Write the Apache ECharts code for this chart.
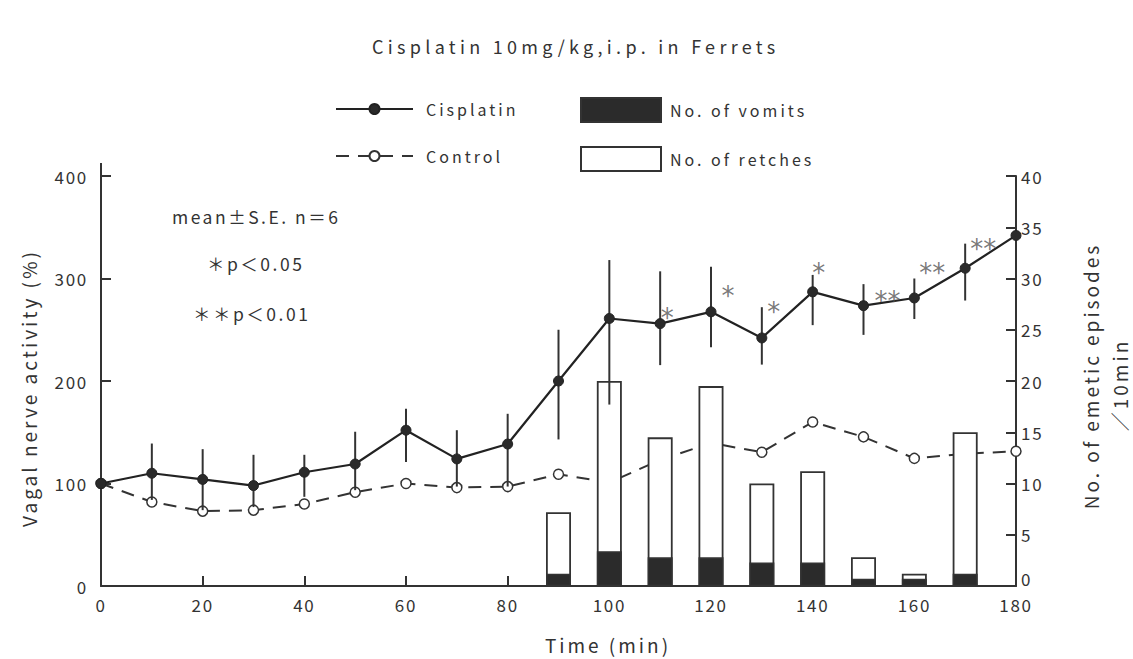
<!DOCTYPE html>
<html>
<head>
<meta charset="utf-8">
<script src="https://cdn.jsdelivr.net/npm/echarts@6/dist/echarts.min.js"></script>
<style>
html,body{margin:0;padding:0;background:#fff;}
#chart{width:1133px;height:659px;}
#chart text{letter-spacing:1.7px;}
#chart text[style*="18px"]{letter-spacing:4.3px;}
#chart text[style*="16px"]{letter-spacing:3px;}
#chart text[style*="19px"]{letter-spacing:3px;}
#chart text[style*="17.5px"]{letter-spacing:2.5px;}
#chart text[style*="26px"]{letter-spacing:0px;}
</style>
</head>
<body>
<div id="chart"></div>
<script>
// ---- data ----
const minutes    = [0, 10, 20, 30, 40, 50, 60, 70, 80, 90, 100, 110, 120, 130, 140, 150, 160, 170, 180];
const cisplatin  = [100, 110, 104, 98, 111, 119, 152, 124, 138.5, 200, 261, 256, 267.5, 242, 287, 273.5, 281, 310, 342];
const cisErrLow  = [null, 84, 74, 77, 87, 93.5, 121, 97, 97, 143, 177, 215.5, 233, 216, 254.5, 245, 260.5, 278.5, null];
const cisErrHigh = [null, 139, 133.5, 128, 128, 150.5, 173, 152, 168, 250, 318, 307, 311.5, 272, 303.5, 294.5, 300, 334, null];
const control    = [100, 82, 73, 74, 80, 91.5, 100, 96, 97, 109, 101, 123, 139.5, 130.5, 160, 145.5, 124.5, 129, 131.5];

const barMinutes = [90, 100, 110, 120, 130, 140, 150, 160, 170];
const vomits     = [1.2, 3.4, 2.8, 2.8, 2.3, 2.3, 0.7, 0.7, 1.2];
const retches    = [7.2, 20, 14.5, 19.5, 10, 11.2, 2.8, 1.2, 15];

const sigMinutes = [110, 120, 130, 140, 150, 160, 170];
const sigMarks   = ['*', '*', '*', '*', '**', '**', '**'];

const xTicks = { min: 0, max: 180, interval: 20 };
const yLeftTicks = { min: 0, max: 400, interval: 100 };
const yRightTicks = { min: 0, max: 40, interval: 5 };

// ---- styling / layout ----
const FONT = '"Noto Sans CJK JP", "Noto Sans", sans-serif';
const INK = '#333';
const sigOffsets = [[7, -6], [17, -16], [12, -26], [6, -19], [24, -5], [18, -25], [18, -19]];

const chart = echarts.init(document.getElementById('chart'), null, { renderer: 'svg' });

const axisLineStyle = { color: INK, width: 2 };

const option = {
  backgroundColor: '#fff',
  animation: false,
  title: {
    text: 'Cisplatin 10mg/kg,i.p. in Ferrets',
    left: 372, top: 37, padding: 0,
    textStyle: { fontSize: 18, fontWeight: 'normal', color: INK, fontFamily: FONT }
  },
  legend: [
    {
      data: ['Cisplatin', 'Control'],
      orient: 'vertical', left: 335, top: 101, padding: 0,
      itemWidth: 77, itemHeight: 12.5, itemGap: 31,
      selectedMode: false,
      textStyle: { fontSize: 16, color: INK, fontFamily: FONT, lineHeight: 16, padding: [0, 0, 0, 8] }
    },
    {
      data: ['No. of vomits', 'No. of retches'],
      orient: 'vertical', left: 580, top: 97, padding: 0,
      itemWidth: 80, itemHeight: 24, itemGap: 23,
      icon: 'rect', selectedMode: false,
      textStyle: { fontSize: 16, color: INK, fontFamily: FONT, lineHeight: 24, padding: [0, 0, 0, 4] }
    }
  ],
  grid: { left: 101, right: 117, top: 176, bottom: 73, containLabel: false, outerBoundsMode: 'none' },
  xAxis: {
    type: 'value', min: xTicks.min, max: xTicks.max, interval: xTicks.interval,
    axisLine: { show: true, lineStyle: axisLineStyle },
    axisTick: { show: true, inside: true, length: 10, lineStyle: { color: INK, width: 2 } },
    axisLabel: { color: INK, fontSize: 17, margin: 10, fontFamily: FONT },
    splitLine: { show: false }
  },
  yAxis: [
    {
      type: 'value', position: 'left', min: yLeftTicks.min, max: yLeftTicks.max, interval: yLeftTicks.interval,
      axisLine: { show: true, lineStyle: axisLineStyle },
      axisTick: { show: true, inside: true, length: 10, lineStyle: { color: INK, width: 2 } },
      axisLabel: { color: INK, fontSize: 17, margin: 13, fontFamily: FONT },
      splitLine: { show: false }
    },
    {
      type: 'value', position: 'right', min: yRightTicks.min, max: yRightTicks.max, interval: yRightTicks.interval,
      axisLine: { show: true, lineStyle: axisLineStyle },
      axisTick: { show: true, inside: true, length: 10, lineStyle: { color: INK, width: 2 } },
      axisLabel: {
        color: INK, fontSize: 17, margin: 5, fontFamily: FONT,
        formatter: v => v === 0 ? '{z|0}' : String(v),
        rich: { z: { fontSize: 17, color: INK, fontFamily: FONT, padding: [0, 0, 16, 0] } }
      },
      splitLine: { show: false }
    }
  ],
  graphic: [
    { type: 'line', shape: { x1: 101, y1: 163, x2: 101, y2: 177 }, style: { stroke: INK, lineWidth: 2 } },
    { type: 'text', x: 28, y: 388, rotation: Math.PI / 2,
      style: { text: 'Vagal nerve activity (%)', align: 'center', verticalAlign: 'middle', fontSize: 19, fill: INK, fontFamily: FONT } },
    { type: 'text', x: 1090, y: 376, rotation: Math.PI / 2,
      style: { text: 'No. of emetic episodes', align: 'center', verticalAlign: 'middle', fontSize: 19, fill: INK, fontFamily: FONT } },
    { type: 'text', x: 1119, y: 385, rotation: Math.PI / 2,
      style: { text: '／10min', align: 'center', verticalAlign: 'middle', fontSize: 19, fill: INK, fontFamily: FONT } },
    { type: 'text', x: 608, y: 644,
      style: { text: 'Time (min)', align: 'center', verticalAlign: 'middle', fontSize: 19, fill: INK, fontFamily: FONT } },
    { type: 'text', x: 172, y: 216,
      style: { text: 'mean±S.E. n＝6', align: 'left', verticalAlign: 'middle', fontSize: 17.5, fill: INK, fontFamily: FONT } },
    { type: 'text', x: 207, y: 263,
      style: { text: '＊p＜0.05', align: 'left', verticalAlign: 'middle', fontSize: 17.5, fill: INK, fontFamily: FONT } },
    { type: 'text', x: 193, y: 313,
      style: { text: '＊＊p＜0.01', align: 'left', verticalAlign: 'middle', fontSize: 17.5, fill: INK, fontFamily: FONT } }
  ],
  series: [
    {
      name: 'Control', type: 'line', z: 1,
      data: minutes.map((m, i) => [m, control[i]]),
      symbol: 'circle', symbolSize: 10,
      itemStyle: { color: '#fff', borderColor: INK, borderWidth: 1.5 },
      lineStyle: { color: INK, width: 2, type: [13, 9] },
      emphasis: { disabled: true }
    },
    {
      name: 'No. of retches', type: 'bar', yAxisIndex: 1, z: 2,
      barWidth: 25, barGap: '-100%',
      data: barMinutes.map((m, i) => [m, retches[i]]),
      itemStyle: { color: '#fff', borderColor: INK, borderWidth: 1.8 },
      emphasis: { disabled: true }
    },
    {
      name: 'No. of vomits', type: 'bar', yAxisIndex: 1, z: 2,
      barWidth: 25, barGap: '-100%',
      data: barMinutes.map((m, i) => [m, vomits[i]]),
      itemStyle: { color: '#2b2b2b', borderColor: INK, borderWidth: 1.5 },
      emphasis: { disabled: true }
    },
    {
      name: 'SE', type: 'custom', z: 3, silent: true,
      data: minutes.map((m, i) => [m, cisErrLow[i], cisErrHigh[i]]).filter(d => d[1] != null),
      encode: { x: 0, y: [1, 2] },
      renderItem: (params, api) => {
        const p1 = api.coord([api.value(0), api.value(1)]);
        const p2 = api.coord([api.value(0), api.value(2)]);
        return { type: 'line', shape: { x1: p1[0], y1: p1[1], x2: p2[0], y2: p2[1] }, style: { stroke: INK, lineWidth: 2 } };
      }
    },
    {
      name: 'Cisplatin', type: 'line', z: 4,
      data: minutes.map((m, i) => [m, cisplatin[i]]),
      symbol: 'circle', symbolSize: 10,
      itemStyle: { color: '#2a2a2a', borderColor: '#222', borderWidth: 1 },
      lineStyle: { color: '#222', width: 2.2 },
      emphasis: { disabled: true }
    },
    {
      name: 'sig', type: 'scatter', z: 5, silent: true,
      symbolSize: 1, itemStyle: { color: 'rgba(0,0,0,0)' },
      data: sigMinutes.map((m, i) => ({
        value: [m, cisplatin[minutes.indexOf(m)]],
        label: { offset: sigOffsets[i] }
      })),
      label: {
        show: true, position: 'inside',
        formatter: p => sigMarks[p.dataIndex],
        fontSize: 26, color: '#555', fontFamily: '"DejaVu Sans", sans-serif'
      }
    }
  ]
};
chart.setOption(option);
</script>
</body>
</html>
